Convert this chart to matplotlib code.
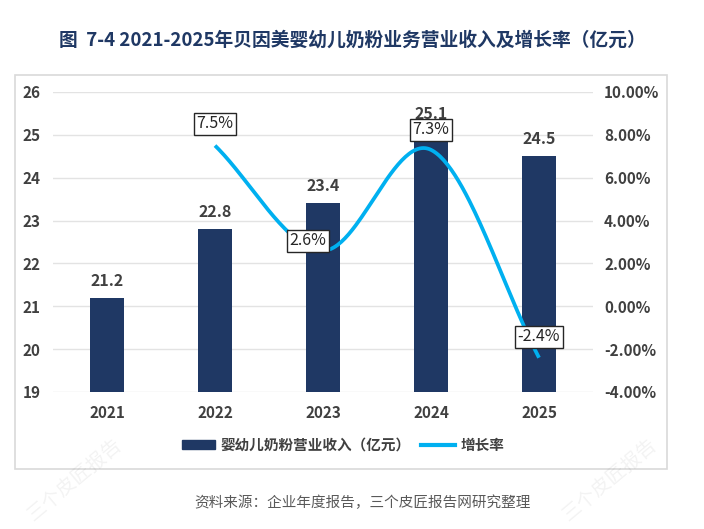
import numpy as np
import matplotlib
matplotlib.use("Agg")
import matplotlib.pyplot as plt
from matplotlib.patches import Rectangle
from matplotlib.lines import Line2D
from matplotlib.ticker import FuncFormatter

plt.rcParams['font.family'] = ['Noto Sans CJK SC', 'DejaVu Sans']

years = ['2021', '2022', '2023', '2024', '2025']
revenue = [21.2, 22.8, 23.4, 25.1, 24.5]
growth_years = ['2022', '2023', '2024', '2025']
growth = [7.5, 2.6, 7.3, -2.4]
left_ticks = [19, 20, 21, 22, 23, 24, 25, 26]
right_ticks = [-4, -2, 0, 2, 4, 6, 8, 10]

title = '图  7-4 2021-2025年贝因美婴幼儿奶粉业务营业收入及增长率（亿元）'
bar_name = '婴幼儿奶粉营业收入（亿元）'
line_name = '增长率'
source = '资料来源：企业年度报告，三个皮匠报告网研究整理'

BAR = '#1F3864'
LINE = '#00B0F0'
TXT = '#404040'

W, H = 704, 529
fig = plt.figure(figsize=(W / 100, H / 100), dpi=100)

def fx(px):
    return px / W

def fy(py):
    return 1 - py / H

# panel border
fig.patches.append(Rectangle((fx(15), fy(469)), fx(667) - fx(15), fy(75) - fy(469),
                             transform=fig.transFigure, fill=False,
                             edgecolor='#D9D9D9', linewidth=1.2))

ax = fig.add_axes([fx(53), fy(392), fx(593) - fx(53), fy(92) - fy(392)])
x = np.arange(len(years))
ax.bar(x, revenue, width=0.31, color=BAR, zorder=2)
ax.set_ylim(19, 26)
ax.set_xlim(-0.5, len(years) - 0.5)
ax.set_yticks(left_ticks)
ax.set_xticks(x)
ax.set_xticklabels(years)
ax.grid(axis='y', color='#E3E3E3', linewidth=1, zorder=0)
for s in ax.spines.values():
    s.set_visible(False)
ax.tick_params(axis='both', length=0, labelsize=11, labelcolor=TXT)
ax.tick_params(axis='x', pad=9)
ax.tick_params(axis='y', pad=9)
for lab in ax.get_xticklabels() + ax.get_yticklabels():
    lab.set_fontweight('bold')

for xi, v in zip(x, revenue):
    ax.annotate(f'{v}', (xi, v), xytext=(0, 17), textcoords='offset pixels',
                ha='center', va='center', fontsize=11.5, fontweight='bold', color=TXT, zorder=4)

ax2 = ax.twinx()
ax2.set_ylim(-4, 10)
ax2.set_yticks(right_ticks)
ax2.yaxis.set_major_formatter(FuncFormatter(lambda v, p: f'{v:.2f}%'))
for s in ax2.spines.values():
    s.set_visible(False)
ax2.tick_params(axis='y', length=0, labelsize=11, labelcolor=TXT, pad=8)
for lab in ax2.get_yticklabels():
    lab.set_fontweight('bold')

# smooth line (Catmull-Rom through the data points)
gx = np.array([years.index(y) for y in growth_years], dtype=float)
gy = np.array(growth, dtype=float)
px = np.concatenate([[2 * gx[0] - gx[1]], gx, [2 * gx[-1] - gx[-2]]])
py = np.concatenate([[2 * gy[0] - gy[1]], gy, [2 * gy[-1] - gy[-2]]])
sx, sy = [], []
t = np.linspace(0, 1, 60)
for i in range(1, len(px) - 2):
    p0, p1, p2, p3 = [np.array([px[j], py[j]]) for j in range(i - 1, i + 3)]
    for tt in t:
        pt = 0.5 * ((2 * p1) + (-p0 + p2) * tt + (2 * p0 - 5 * p1 + 4 * p2 - p3) * tt ** 2
                    + (-p0 + 3 * p1 - 3 * p2 + p3) * tt ** 3)
        sx.append(pt[0]); sy.append(pt[1])
ax2.plot(sx, sy, color=LINE, linewidth=2.7, solid_capstyle='butt', zorder=3)

offsets = [(0, 22), (-15, 10), (0, 20), (0, 21)]
for xi, v, off in zip(gx, gy, offsets):
    ax2.annotate(f'{v}%', (xi, v), xytext=off, textcoords='offset pixels',
                 ha='center', va='center', fontsize=11.5, color='#262626', zorder=5,
                 bbox=dict(boxstyle='square,pad=0.16', facecolor='white',
                           edgecolor='#262626', linewidth=1))

handles = [Rectangle((0, 0), 1, 1, color=BAR),
           Line2D([0], [0], color=LINE, linewidth=3)]
leg = fig.legend(handles, [bar_name, line_name], loc='center',
                 bbox_to_anchor=(fx(343), fy(445)), ncol=2, frameon=False,
                 handlelength=2.3, handleheight=0.55, handletextpad=0.4,
                 columnspacing=0.7, prop={'size': 10.5, 'weight': 'bold'})
for tx in leg.get_texts():
    tx.set_color(TXT)

fig.text(fx(352), fy(40), title, ha='center', va='center', fontsize=13.5,
         fontweight='bold', color='#1F3864')
fig.text(fx(194), fy(503), source, ha='left', va='center', fontsize=10.5, color='#595959')

# faint watermarks
for (wx, wy) in [(75, 480), (610, 480)]:
    fig.text(fx(wx), fy(wy), '三个皮匠报告', ha='center', va='center', fontsize=14,
             rotation=40, color='#000000', alpha=0.05)

fig.savefig('out.png', dpi=100)
